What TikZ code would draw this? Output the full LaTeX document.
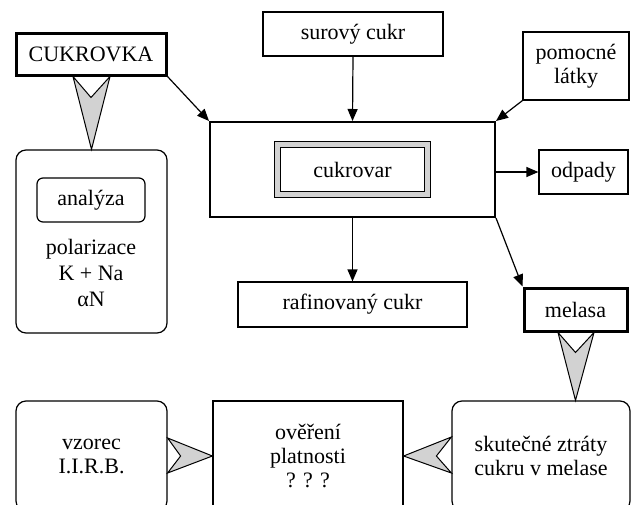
\documentclass[tikz,border=0pt]{standalone}
\usepackage{fontspec}
\setmainfont{Liberation Serif}
\usetikzlibrary{positioning, calc, arrows.meta}
\tikzset{block/.style={draw, line width=0.6pt, inner sep=0pt, align=center}}
\tikzset{thickblock/.style={block, line width=1.5pt}}
\tikzset{roundblock/.style={block, rounded corners=5pt}}
\tikzset{flow/.style={line width=0.6pt, -{Triangle[length=6pt, width=5pt]}}}
\tikzset{fatarrow/.style={draw, line width=0.5pt, fill=gray!35}}

\begin{document}
\begin{tikzpicture}[x=0.5pt, y=-0.5pt, font=\fontsize{11}{12}\selectfont]
      \useasboundingbox (0,0) rectangle (632,504);
      \clip (0,0) rectangle (632,504);

      % top row
      \node[thickblock, minimum width=75pt, minimum height=21pt] (cuk) at (91,54) {CUKROVKA};
      \node[block, minimum width=90pt, minimum height=22pt] (sur) at (353,34) {surový cukr};
      \node[block, minimum width=53pt, minimum height=34pt] (pom) at (576,66) {pomocné\\látky};

      % plant
      \node[block, line width=1pt, minimum width=142.5pt, minimum height=47.5pt] (plant) at (352.5,169.5) {};
      \node[draw, line width=0.5pt, double=gray!35, double distance=2.6pt, inner sep=0pt,
            minimum width=75pt, minimum height=25pt] (plantin) at (plant.center) {cukrovar};
      \node[block, minimum width=44.5pt, minimum height=22pt] (odp) at (583.5,172) {odpady};
      \node[block, minimum width=114.5pt, minimum height=22.5pt] (raf) at (352.5,304.5) {rafinovaný cukr};
      \node[thickblock, minimum width=51.5pt, minimum height=21.5pt] (mel) at (575.5,309.5) {melasa};

      % analysis
      \node[roundblock, minimum width=75.5pt, minimum height=91.5pt] (anl) at (91.5,241.5) {};
      \node[block, rounded corners=3pt, minimum width=54pt, minimum height=22pt] (anlin) at (91,200) {analýza};
      \node[align=center, font=\fontsize{11}{13}\selectfont] (par) at (91,273) {polarizace\\K + Na\\αN};

      % bottom row
      \node[roundblock, minimum width=75.5pt, minimum height=55pt] (vz) at (91.5,456) {vzorec\\I.I.R.B.};
      \node[block, minimum width=95pt, minimum height=55pt] (over) at (308,456) {ověření\\platnosti\\? ? ?};
      \node[roundblock, minimum width=89pt, minimum height=55pt] (skut) at (541,456) {skutečné ztráty\\cukru v melase};

      \draw[flow] (cuk.south east) -- (plant.north west);
      \draw[flow] (sur.south) -- (plant.north);
      \draw[flow] (pom.south west) -- (plant.north east);
      \draw[flow] (plant.east |- odp.west) -- (odp.west);
      \draw[flow] (plant.south) -- (raf.north);
      \draw[flow] (plant.south east) -- (mel.north west);

      \draw[fatarrow] ($(cuk.south)+(-18,0)$) -- ($(cuk.south)+(0,21)$) -- ($(cuk.south)+(19,0)$) -- (anl.north) -- cycle;
      \draw[fatarrow] ($(mel.south)+(-17.5,0)$) -- ($(mel.south)+(0,20)$) -- ($(mel.south)+(18.5,0)$) -- (mel.south |- skut.north) -- cycle;
      \draw[fatarrow] ($(skut.west)+(0,-19)$) -- ($(skut.west)+(-15,0)$) -- ($(skut.west)+(0,17)$) -- (over.east) -- cycle;
      \draw[fatarrow] ($(vz.east)+(0,-18)$) -- ($(vz.east)+(13,0)$) -- ($(vz.east)+(0,17)$) -- (over.west) -- cycle;
\end{tikzpicture}
\end{document}
